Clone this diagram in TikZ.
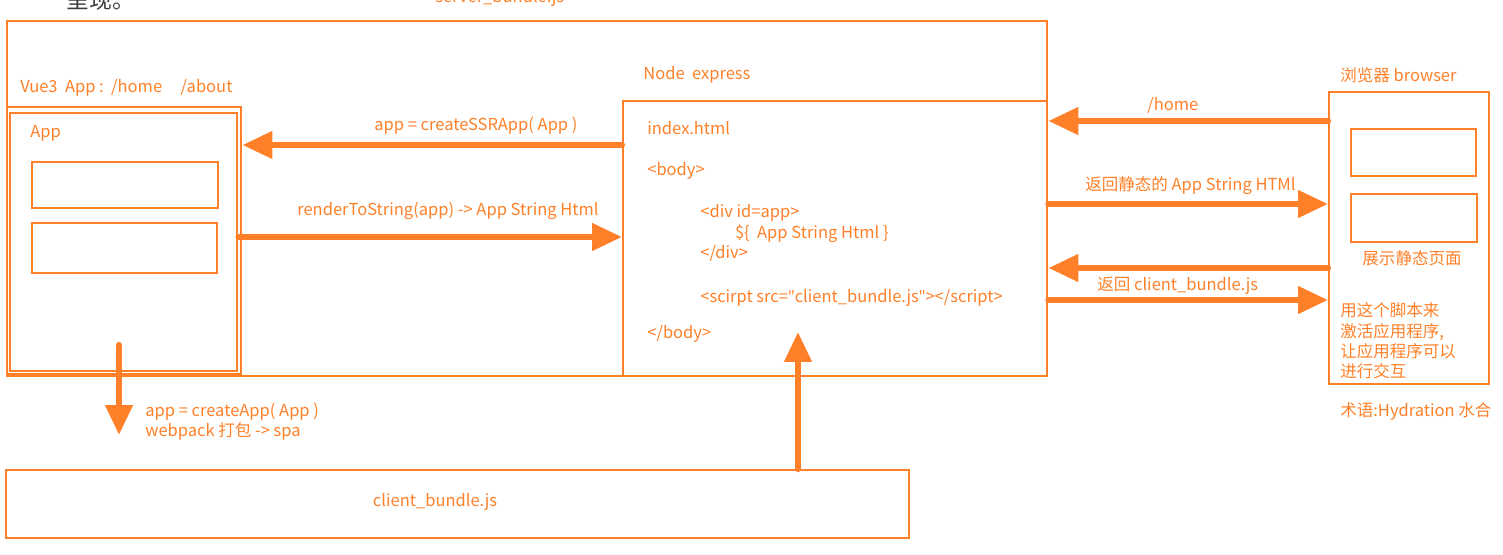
\documentclass[tikz,border=0pt]{standalone}
\usepackage{fontspec}
\setmainfont{Noto Sans CJK SC}
\newfontfamily\latinsans{Noto Sans}
\usetikzlibrary{arrows.meta}
\definecolor{ssrorange}{RGB}{255,128,40}
\definecolor{ssrgray}{RGB}{60,60,60}

\begin{document}
\begin{tikzpicture}[x=0.02cm, y=-0.02cm, color=ssrorange,
    font=\fontsize{9.4}{11.5}\selectfont,
    box/.style={draw, line width=1.4pt, anchor=north west, inner sep=0pt},
    fat/.style={line width=3.5pt, line cap=round, -{Triangle[length=17pt,width=15pt]}},
    lbl/.style={anchor=west, inner sep=0pt, align=left}]
    \useasboundingbox (0,0) rectangle (1503,554);

    % header, cut off at the top
    \node[lbl, text=ssrgray, font=\fontsize{13}{15}\selectfont] (title) at (66,0) {呈现。};
    \node[lbl] (sbundle) at (435,-2) {server\_bundle.js};

    % boxes
    \node[box, minimum width=20.8cm, minimum height=7.1cm]   (server)  at (6,20) {};
    \node[box, minimum width=4.68cm, minimum height=5.34cm]  (vue)     at (6,106) {};
    \node[box, minimum width=4.54cm, minimum height=5.16cm]  (app)     at (9,112) {};
    \node[box, minimum width=3.72cm, minimum height=0.92cm]  (slotA)   at (31,161) {};
    \node[box, minimum width=3.7cm,  minimum height=1.0cm]   (slotB)   at (31,222) {};
    \node[box, minimum width=8.48cm, minimum height=5.5cm]   (express) at (622,100) {};
    \node[box, minimum width=3.2cm,  minimum height=5.84cm]  (browser) at (1328,91) {};
    \node[box, minimum width=2.5cm,  minimum height=0.94cm]  (viewA)   at (1350,128) {};
    \node[box, minimum width=2.52cm, minimum height=0.96cm]  (viewB)   at (1350,193) {};
    \node[box, minimum width=18.06cm, minimum height=1.36cm] (client)  at (5,469) {};

    % titles of the boxes
    \node[lbl] (vuetitle)  at (20,88)    {Vue3~~App :~~/home~~~~~/about};
    \node[lbl] (apptitle)  at (30,133)   {App};
    \node[lbl] (nodetitle) at (643,75)   {Node~~express};
    \node[lbl] (brtitle)   at (1340,75)  {浏览器 browser};
    \node (static) at (1412,258) {展示静态页面};
    \node[lbl] (hydrate) at (1340,341) {用这个脚本来\\激活应用程序,\\让应用程序可以\\进行交互};
    \node[lbl] (term)    at (1340,411) {术语:Hydration 水合};
    \node (cbundle) at (435,502) {client\_bundle.js};

    % index.html
    \node[lbl] (index) at (647,128) {index.html};
    \node[lbl] (body)  at (647,171) {<body>};
    \node[lbl] (div)   at (700,233) {<div id=app>\\\hspace{2.1em}\$\{~~App String Html \}\\</div>};
    \node[lbl] (scr)   at (700,298) {<scirpt src={\latinsans"}client\_bundle.js{\latinsans"}></script>};
    \node[lbl] (ebody) at (647,334) {</body>};

    % arrows
    \draw[fat] (express.west |- 0,145) -- (vue.east |- 0,145);
    \node[lbl] (ssr) at (374,126) {app = createSSRApp( App )};
    \draw[fat] (app.east |- 0,237) -- (express.west |- 0,237);
    \node[lbl] (rts) at (297,211) {renderToString(app) -> App String Html};

    \draw[fat] (browser.west |- 0,121) -- (express.east |- 0,121);
    \node[lbl] (home) at (1147,105) {/home};
    \draw[fat] (express.east |- 0,204) -- (browser.west |- 0,204);
    \node[lbl] (ret) at (1085,186) {返回静态的 App String HTMl};
    \draw[fat] (browser.west |- 0,268) -- (express.east |- 0,268);
    \draw[fat] (express.east |- 0,300) -- (browser.west |- 0,300);
    \node[lbl] (retjs) at (1097,286) {返回 client\_bundle.js};

    \coordinate (spatop) at (119,345);
    \coordinate (spa) at (119,435);
    \draw[fat] (spatop) -- (spa);
    \node[lbl] (capp) at (145,422) {app = createApp( App )\\webpack 打包 -> spa};

    \coordinate (load) at (798,332);
    \draw[fat] (client.north -| load) -- (load);
\end{tikzpicture}
\end{document}
